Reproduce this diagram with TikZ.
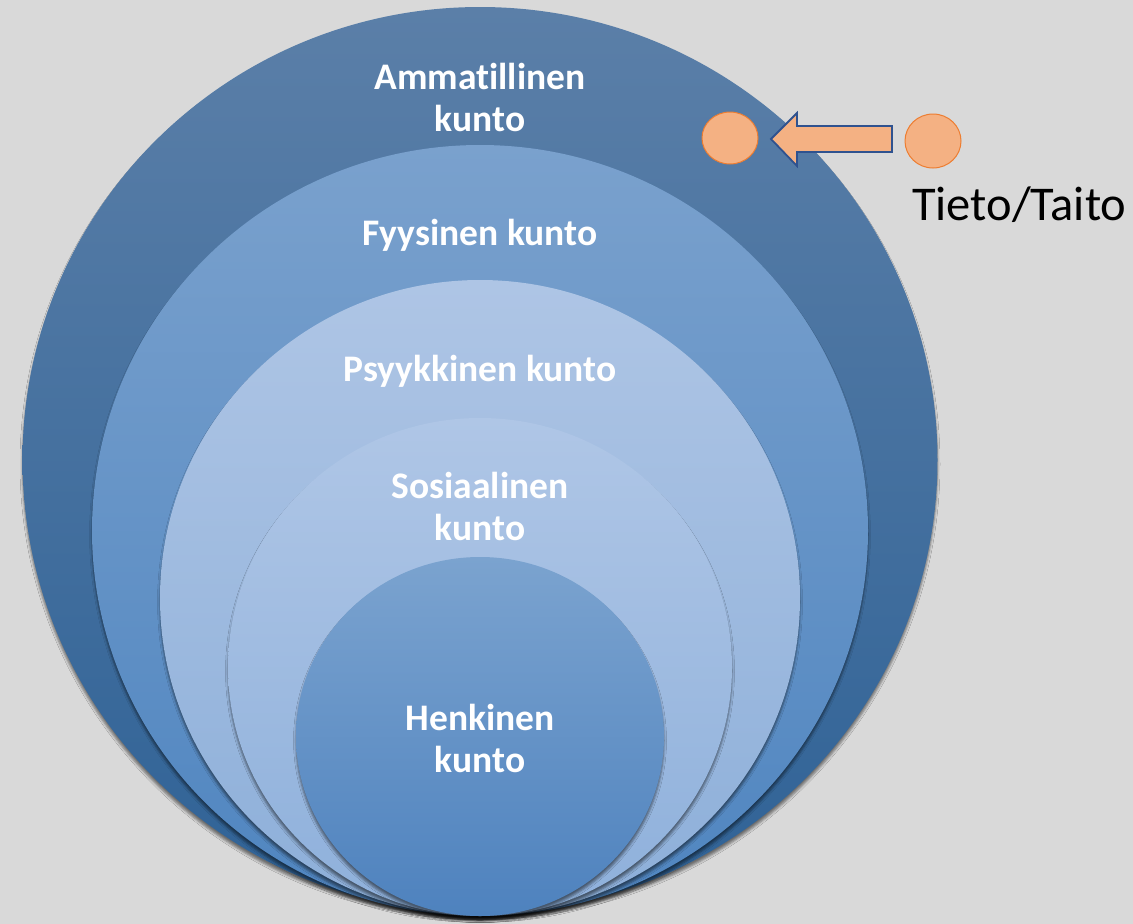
\documentclass[tikz,border=0pt]{standalone}
\usepackage{fontspec}
\setmainfont{Carlito}[Ligatures={NoCommon}]
\usetikzlibrary{shapes.geometric,shadows.blur}
\definecolor{bg}{HTML}{D9D9D9}
\definecolor{c1t}{HTML}{5B7FA8}
\definecolor{c1b}{HTML}{2F6296}
\definecolor{c2t}{HTML}{7AA1CD}
\definecolor{c2b}{HTML}{4F85C0}
\definecolor{c3t}{HTML}{AEC5E5}
\definecolor{c3b}{HTML}{8DAFD9}
\definecolor{c4t}{HTML}{AFC6E6}
\definecolor{c4b}{HTML}{8EB0DB}
\definecolor{c5t}{HTML}{7BA3CF}
\definecolor{c5b}{HTML}{4E82BE}
\definecolor{orfill}{HTML}{F4B183}
\definecolor{orline}{HTML}{ED7D31}
\definecolor{arline}{HTML}{2F528F}
\tikzset{
  ring/.style={ellipse, inner sep=0pt,
    blur shadow={shadow xshift=0pt, shadow yshift=-4pt, shadow blur radius=2.5pt, shadow opacity=50}},
  lbl/.style={text=white, align=center, font=\fontsize{37.5}{42}\selectfont\bfseries, inner sep=0pt},
  dot/.style={ellipse, inner sep=0pt, fill=orfill, draw=orline, line width=1pt},
  bigarrow/.style={fill=orfill, draw=arline, line width=1.8pt, line join=miter}
}
\begin{document}
\begin{tikzpicture}[x=1pt,y=-1pt]
\fill[bg] (0,0) rectangle (1133,924);
\useasboundingbox (0,0) rectangle (1133,924);
% nested circles
\node[ring, top color=c1t, bottom color=c1b, minimum width=915pt, minimum height=906pt] (r1) at (480,460) {};
\node[ring, top color=c2t, bottom color=c2b, minimum width=776pt, minimum height=771pt] (r2) at (480,530.5) {};
\node[ring, top color=c3t, bottom color=c3b, minimum width=640pt, minimum height=636pt] (r3) at (480,598) {};
\node[ring, top color=c4t, bottom color=c4b, minimum width=504pt, minimum height=498pt] (r4) at (480,667) {};
\node[ring, top color=c5t, bottom color=c5b, minimum width=368pt, minimum height=359pt] (r5) at (480,736.5) {};
% labels (base anchor = baseline of last line)
\node[lbl, anchor=base] (t1) at (480,131) {Ammatillinen\\kunto};
\node[lbl, anchor=base] (t2) at (480,245) {Fyysinen kunto};
\node[lbl, anchor=base] (t3) at (480,381) {Psyykkinen kunto};
\node[lbl, anchor=base] (t4) at (480,540) {Sosiaalinen\\kunto};
\node[lbl, anchor=base] (t5) at (480,772) {Henkinen\\kunto};
% orange dots and arrow
\node[dot, minimum width=56pt, minimum height=52pt] (dL) at (730,138) {};
\node[dot, minimum width=56pt, minimum height=54pt] (dR) at (933,141) {};
\draw[bigarrow] (771,139) -- (797,113) -- (797,126) -- (892,126) -- (892,152) -- (797,152) -- (797,166) -- cycle;
\node[anchor=base west, inner sep=0pt, font=\fontsize{48.5}{58}\selectfont] (tt) at (912,220) {Tieto/Taito};
\end{tikzpicture}
\end{document}
